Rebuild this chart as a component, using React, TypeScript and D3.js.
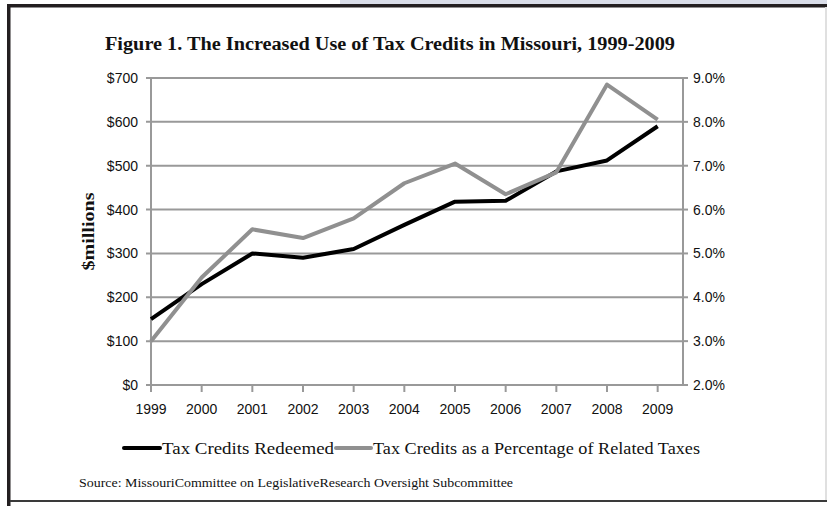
import React from "react";
import * as d3 from "d3";

const years = ["1999","2000","2001","2002","2003","2004","2005","2006","2007","2008","2009"];
const redeemed = [150, 230, 300, 290, 310, 365, 418, 420, 487, 512, 590];
const pctOfTaxes = [3.0, 4.45, 5.55, 5.35, 5.8, 6.6, 7.05, 6.35, 6.85, 8.85, 8.05];
const leftTicks = [0, 100, 200, 300, 400, 500, 600, 700];
const rightTicks = [2, 3, 4, 5, 6, 7, 8, 9];
const title = "Figure 1. The Increased Use of Tax Credits in Missouri, 1999-2009";
const yTitle = "$millions";
const legendLabels = ["Tax Credits Redeemed", "Tax Credits as a Percentage of Related Taxes"];
const source = "Source:  MissouriCommittee on LegislativeResearch Oversight Subcommittee";

export default function App() {
  const W = 827, H = 506;
  const left = 151, right = 683, top = 78, bottom = 385;
  const x = d3.scaleLinear().domain([0, years.length - 0.5]).range([left, right]);
  const yL = d3.scaleLinear().domain([0, 700]).range([bottom, top]);
  const yR = d3.scaleLinear().domain([2, 9]).range([bottom, top]);
  const grid = "#999999";
  const serif = "'Liberation Serif', 'DejaVu Serif', serif";
  const sans = "'Liberation Sans', Arial, sans-serif";

  const lineL = d3.line<number>().x((_, i) => x(i)).y(d => yL(d));
  const lineR = d3.line<number>().x((_, i) => x(i)).y(d => yR(d));

  return (
    <svg width={W} height={H} style={{ position: "absolute", left: 0, top: 0, background: "#fff" }}>
      <rect x={340} y={0} width={487} height={4} fill="#d9dde8" />
      <rect x={7} y={4} width={820} height={3.5} fill="#231f20" />
      <rect x={7} y={4} width={3.5} height={502} fill="#231f20" />
      <rect x={10} y={500} width={817} height={2} fill="#3a3a3a" />
      <rect x={825} y={7} width={2} height={493} fill="#e0e0e0" />

      <text x={390} y={50} textAnchor="middle" fontFamily={serif} fontWeight="bold" fontSize={18}
        textLength={570} lengthAdjust="spacingAndGlyphs" fill="#111">{title}</text>

      {leftTicks.map(t => (
        <g key={"gl" + t}>
          <line x1={left - 5} x2={right} y1={yL(t)} y2={yL(t)} stroke={grid} strokeWidth={2} />
          <text x={138} y={yL(t) + 5} textAnchor="end" fontFamily={sans} fontSize={14} fill="#111">{"$" + t}</text>
        </g>
      ))}
      {rightTicks.map(t => (
        <g key={"gr" + t}>
          <line x1={right} x2={right + 5} y1={yR(t)} y2={yR(t)} stroke={grid} strokeWidth={2} />
          <text x={693} y={yR(t) + 5} textAnchor="start" fontFamily={sans} fontSize={14} fill="#111">{t.toFixed(1) + "%"}</text>
        </g>
      ))}
      <line x1={left} x2={left} y1={top} y2={bottom + 7} stroke={grid} strokeWidth={2} />
      <line x1={right} x2={right} y1={top} y2={bottom} stroke={grid} strokeWidth={2} />
      {years.map((yr, i) => (
        <g key={yr}>
          <line x1={x(i)} x2={x(i)} y1={bottom} y2={bottom + 7} stroke={grid} strokeWidth={2} />
          <text x={x(i)} y={414} textAnchor="middle" fontFamily={sans} fontSize={14} fill="#111">{yr}</text>
        </g>
      ))}

      <path d={lineL(redeemed) || ""} fill="none" stroke="#000" strokeWidth={4} strokeLinejoin="round" />
      <path d={lineR(pctOfTaxes) || ""} fill="none" stroke="#909090" strokeWidth={4} strokeLinejoin="round" />

      <text transform={`translate(94,${(top + bottom) / 2}) rotate(-90)`} textAnchor="middle"
        fontFamily={serif} fontWeight="bold" fontSize={17} textLength={78} lengthAdjust="spacingAndGlyphs" fill="#111">{yTitle}</text>

      <line x1={124} x2={160} y1={448} y2={448} stroke="#000" strokeWidth={4} strokeLinecap="round" />
      <text x={162} y={454} fontFamily={serif} fontSize={17} textLength={172} lengthAdjust="spacingAndGlyphs" fill="#111">{legendLabels[0]}</text>
      <line x1={336} x2={371} y1={448} y2={448} stroke="#909090" strokeWidth={4} strokeLinecap="round" />
      <text x={373} y={454} fontFamily={serif} fontSize={17} textLength={327} lengthAdjust="spacingAndGlyphs" fill="#111">{legendLabels[1]}</text>

      <text x={79} y={487} fontFamily={serif} fontSize={12} textLength={434} lengthAdjust="spacingAndGlyphs" fill="#111">{source}</text>
    </svg>
  );
}
